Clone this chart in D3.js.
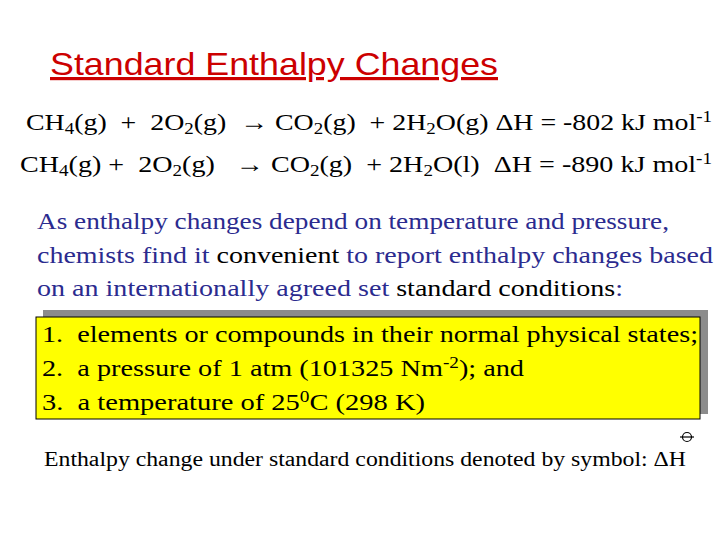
<!DOCTYPE html>
<html>
<head>
<meta charset="utf-8">
<script src="https://cdn.jsdelivr.net/npm/d3@7"></script>
<style>
body{margin:0;background:#fff}
text{font-family:"Liberation Serif","Times New Roman",serif}
</style>
</head>
<body>
<svg id="slide" width="720" height="540"></svg>
<script>
// each line is a list of [text, kind] pieces; kind: n normal, sub, sup, k black
var title = 'Standard Enthalpy Changes';
var equations = [
  [['CH','n'],['4','sub'],['(g)  +  2O','n'],['2','sub'],['(g)  \u2192 CO','n'],['2','sub'],['(g)  + 2H','n'],['2','sub'],['O(g) \u0394H = -802 kJ mol','n'],['-1','sup']],
  [['CH','n'],['4','sub'],['(g) +  2O','n'],['2','sub'],['(g)   \u2192 CO','n'],['2','sub'],['(g)  + 2H','n'],['2','sub'],['O(l)  \u0394H = -890 kJ mol','n'],['-1','sup']]
];
var paragraph = [
  [['As enthalpy changes depend on temperature and pressure,','n']],
  [['chemists find it ','n'],['convenient','k'],[' to report enthalpy changes based','n']],
  [['on an internationally agreed set ','n'],['standard conditions','k'],[':','n']]
];
var conditions = [
  [['1.  elements or compounds in their normal physical states;','n']],
  [['2.  a pressure of 1 atm (101325 Nm','n'],['-2','sup'],['); and','n']],
  [['3.  a temperature of 25','n'],['0','sup'],['C (298 K)','n']]
];
var footnote = [['Enthalpy change under standard conditions denoted by symbol: \u0394H','n']];

var svg = d3.select('#slide');

function writeLine(x, y, size, color, pieces, width){
  var t = svg.append('text').attr('x', x).attr('y', y)
    .attr('font-size', size).attr('fill', color).attr('xml:space','preserve');
  if (width) t.attr('textLength', width).attr('lengthAdjust','spacingAndGlyphs');
  pieces.forEach(function(p){
    var s = t.append('tspan').text(p[0]);
    if (p[1] == 'sub') s.attr('baseline-shift','-25%').attr('font-size', size*0.68);
    if (p[1] == 'sup') s.attr('baseline-shift','50%').attr('font-size', size*0.68);
    if (p[1] == 'k') s.attr('fill','#000');
  });
  return t;
}

svg.append('text').attr('x', 50).attr('y', 75)
  .style('font-family','"Liberation Sans",Arial,sans-serif')
  .attr('font-size', 32).attr('fill','#cc0000')
  .attr('text-decoration','underline')
  .attr('textLength', 448).attr('lengthAdjust','spacingAndGlyphs')
  .text(title);

writeLine(26, 130, 24, '#000', equations[0], 686);
writeLine(20, 172, 24, '#000', equations[1], 692);

var paraY = d3.scaleLinear().domain([0, 2]).range([229, 296]);
var paraW = [632, 676, 586];
paragraph.forEach(function(l, i){ writeLine(37, paraY(i), 24, '#2b2b8f', l, paraW[i]); });

svg.append('rect').attr('x', 43).attr('y', 310).attr('width', 665).attr('height', 104).attr('fill','#8c8c8c');
svg.append('rect').attr('x', 36).attr('y', 317).attr('width', 664).attr('height', 102)
  .attr('fill','#ffff00').attr('stroke','#000').attr('stroke-width',1);

var condY = d3.scaleLinear().domain([0, 2]).range([342, 410]);
var condW = [656, 482, 383];
conditions.forEach(function(l, i){ writeLine(42, condY(i), 24, '#000', l, condW[i]); });

writeLine(44, 466, 20, '#000', footnote, 642);
// the standard-state plimsoll mark over H
var px = 687, py = 437;
svg.append('circle').attr('cx', px).attr('cy', py).attr('r', 4.5).attr('fill','none').attr('stroke','#000').attr('stroke-width',1.2);
svg.append('line').attr('x1', px-7).attr('x2', px+7).attr('y1', py).attr('y2', py).attr('stroke','#000').attr('stroke-width',1.2);
</script>
</body>
</html>
